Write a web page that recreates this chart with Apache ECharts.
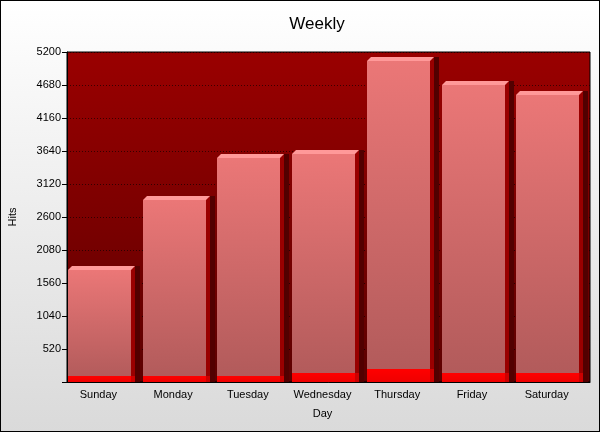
<!DOCTYPE html>
<html><head><meta charset="utf-8">
<script src="https://cdn.jsdelivr.net/npm/echarts@6/dist/echarts.min.js"></script>
<style>
html,body{margin:0;padding:0;}
#c{width:598px;height:430px;border:1px solid #000;background:linear-gradient(#ffffff,#dadada);}
</style></head><body>
<div id="c"></div>
<script>
const days = ['Sunday','Monday','Tuesday','Wednesday','Thursday','Friday','Saturday'];
const hits = [1760, 2860, 3535, 3600, 5060, 4685, 4525];
const low = [95, 95, 95, 140, 205, 140, 140];
const yTicks = ['', '520', '1040', '1560', '2080', '2600', '3120', '3640', '4160', '4680', '5200'];

const chart = echarts.init(document.getElementById('c'));
const font = 'Liberation Sans, Arial, sans-serif';

function bar3d(params, api, kind) {
  const x = api.value(0), v = api.value(1);
  const top = api.coord([x, v]);
  const base = api.coord([x, 0]);
  const bw = api.size([1, 0])[0];
  const left = Math.round(top[0] - bw / 2) + 1;
  const fw = 63, d = 4, sh = 5;
  const t = Math.round(top[1]), b = Math.round(base[1]);
  const h = b - t;
  if (kind === 'main') {
    return {type: 'group', children: [
      {type: 'rect', shape: {x: left + fw + d, y: t - d, width: sh, height: h + d}, style: {fill: '#520000'}},
      {type: 'polygon', shape: {points: [[left + fw, t], [left + fw + d, t - d], [left + fw + d, b], [left + fw, b]]}, style: {fill: '#990000'}},
      {type: 'polygon', shape: {points: [[left, t], [left + d, t - d], [left + fw + d, t - d], [left + fw, t]]}, style: {fill: '#ff9999'}},
      {type: 'rect', shape: {x: left, y: t, width: fw, height: h}, style: {fill: new echarts.graphic.LinearGradient(0, 0, 0, 1, [{offset: 0, color: '#eb7777'}, {offset: 1, color: '#b05a5a'}])}}
    ]};
  }
  return {type: 'group', children: [
    {type: 'rect', shape: {x: left + fw, y: t, width: d, height: h}, style: {fill: '#cc0000'}},
    {type: 'rect', shape: {x: left, y: t, width: fw, height: h}, style: {fill: new echarts.graphic.LinearGradient(0, 0, 0, 1, [{offset: 0, color: '#ff0000'}, {offset: 1, color: '#ee0000'}])}}
  ]};
}

chart.setOption({
  animation: false,
  title: {text: 'Weekly', left: 311, textAlign: 'center', top: 10, textStyle: {fontFamily: font, fontSize: 17, fontWeight: 'normal', color: '#000'}},
  grid: {left: 66, right: 9, top: 51, bottom: 49, containLabel: false, outerBoundsMode: 'none', show: true, borderColor: '#000', borderWidth: 1,
    backgroundColor: new echarts.graphic.LinearGradient(0, 0, 0, 1, [{offset: 0, color: '#9a0000'}, {offset: 1, color: '#5c0000'}])},
  xAxis: {type: 'category', data: days, name: 'Day', nameLocation: 'middle', nameGap: 26,
    nameTextStyle: {fontFamily: font, fontSize: 11, color: '#000', padding: [0, 12, 0, 0]},
    axisLine: {lineStyle: {color: '#000'}}, axisTick: {show: false},
    axisLabel: {interval: 0, fontFamily: font, fontSize: 11, color: '#000', margin: 7, padding: [0, 12, 0, 0]}},
  yAxis: {type: 'value', min: 0, max: 5200, interval: 520, name: 'Hits', nameLocation: 'middle', nameGap: 49,
    nameTextStyle: {fontFamily: font, fontSize: 11, color: '#000'},
    axisLine: {show: true, lineStyle: {color: '#000'}}, axisTick: {show: true, length: 5, lineStyle: {color: '#000'}},
    axisLabel: {fontFamily: font, fontSize: 11, color: '#000', margin: 6, formatter: (v, i) => yTicks[i]},
    splitLine: {show: true, lineStyle: {color: '#000', type: [1, 2], opacity: 0.6}}},
  series: [
    {type: 'custom', data: hits.map((v, i) => [i, v]), renderItem: (p, a) => bar3d(p, a, 'main'), z: 2},
    {type: 'custom', data: low.map((v, i) => [i, v]), renderItem: (p, a) => bar3d(p, a, 'low'), z: 3}
  ]
});
</script></body></html>
